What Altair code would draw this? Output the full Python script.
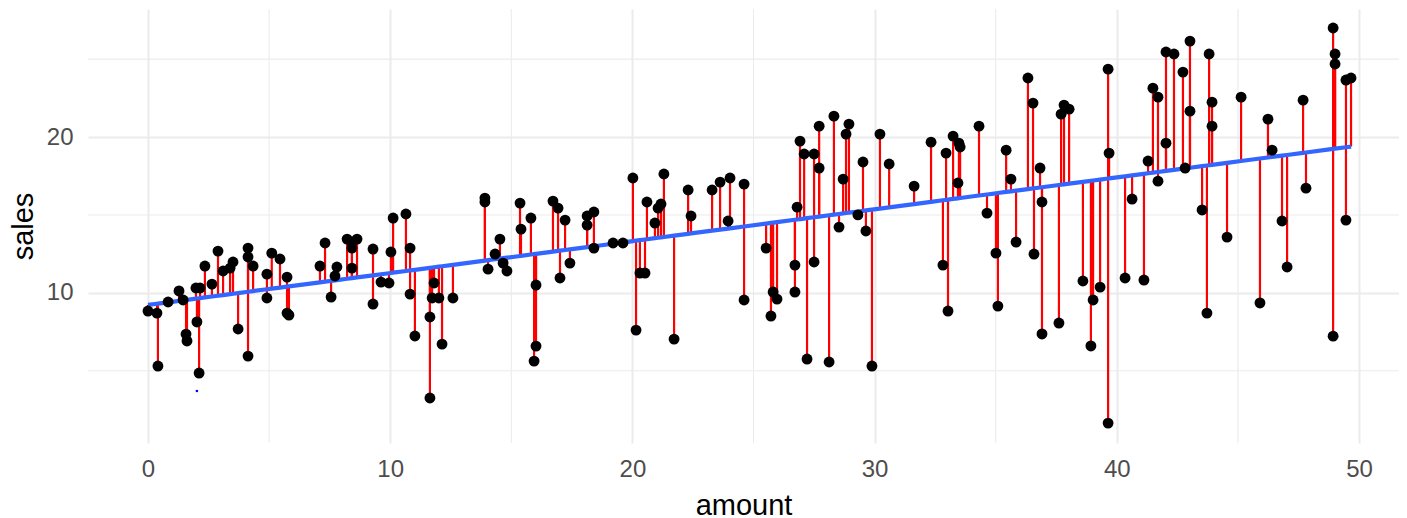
import altair as alt
import numpy as np
import pandas as pd

amount = [0.00, 0.37, 0.41, 0.83, 1.28, 1.45, 1.57, 1.61, 1.98, 2.15,
          2.02, 2.11, 2.35, 2.64, 2.89, 3.10, 3.39, 3.51, 3.72, 4.13,
          4.13, 4.34, 4.13, 4.91, 4.91, 5.11, 5.45, 5.74, 5.74, 5.82,
          7.10, 7.31, 7.56, 7.72, 7.80, 8.22, 8.42, 8.42, 8.63, 8.42,
          9.29, 9.29, 9.62, 9.95, 10.03, 10.12, 10.65, 10.82, 10.82, 11.02,
          11.64, 11.64, 11.73, 11.81, 12.01, 12.14, 12.59, 13.91, 13.91, 14.04,
          14.33, 14.53, 14.66, 14.82, 15.36, 15.40, 15.81, 16.02, 16.02, 15.94,
          16.72, 16.93, 17.01, 17.22, 17.42, 18.13, 18.13, 18.41, 18.41, 19.20,
          19.61, 20.02, 20.15, 20.31, 20.52, 20.60, 20.93, 21.06, 21.18, 21.30,
          21.72, 22.30, 22.42, 23.29, 23.62, 24.03, 23.95, 24.61, 24.61, 25.52,
          25.81, 25.97, 25.72, 26.71, 26.71, 26.80, 26.92, 27.09, 27.21, 27.50,
          27.50, 27.71, 27.71, 28.12, 28.32, 28.53, 28.70, 28.82, 28.94, 29.31,
          29.52, 29.64, 29.89, 30.22, 30.60, 31.63, 32.33, 32.82, 32.95, 33.03,
          33.24, 33.48, 33.53, 33.44, 34.31, 34.64, 35.01, 35.09, 35.43, 35.63,
          35.84, 36.33, 36.54, 36.58, 36.83, 36.91, 36.91, 37.61, 37.70, 37.82,
          38.03, 38.60, 39.02, 38.93, 39.31, 39.64, 39.68, 39.64, 40.34, 40.63,
          41.12, 41.29, 41.49, 41.70, 41.70, 42.03, 42.03, 42.36, 42.73, 42.82,
          43.02, 43.02, 43.52, 43.72, 43.81, 43.93, 43.93, 44.55, 45.13, 45.91,
          46.24, 46.41, 46.82, 47.03, 47.69, 47.81, 48.93, 49.01, 49.01, 48.93,
          49.46, 49.67, 49.46]

sales = [8.83, 8.70, 5.30, 9.41, 10.12, 9.54, 7.35, 6.91, 10.31, 10.31,
         8.13, 4.85, 11.72, 10.56, 12.68, 11.40, 11.59, 11.98, 7.68, 12.87,
         12.30, 11.72, 5.94, 11.20, 9.67, 12.55, 12.17, 11.01, 8.70, 8.57,
         11.72, 13.20, 9.73, 11.08, 11.66, 13.45, 13.26, 12.87, 13.45, 11.59,
         12.81, 9.28, 10.69, 10.63, 12.62, 14.80, 15.06, 12.87, 9.92, 7.23,
         3.25, 8.45, 9.67, 10.63, 9.67, 6.71, 9.67, 16.08, 15.83, 11.52,
         12.49, 13.45, 11.91, 11.40, 15.76, 14.09, 14.80, 10.50, 6.58, 5.62,
         15.89, 15.44, 10.95, 14.67, 11.91, 14.93, 14.35, 15.19, 12.87, 13.20,
         13.20, 17.37, 7.61, 11.27, 11.27, 15.83, 14.48, 15.44, 15.70, 17.63,
         7.03, 16.60, 14.93, 16.60, 17.11, 17.37, 14.61, 16.98, 9.54, 12.87,
         10.05, 9.60, 8.51, 11.78, 10.05, 15.50, 19.74, 18.91, 5.75, 18.91,
         11.98, 20.70, 18.01, 5.56, 21.34, 14.22, 17.30, 20.19, 20.83, 15.00,
         18.40, 13.97, 5.30, 20.19, 18.27, 16.85, 19.67, 11.78, 18.97, 8.83,
         20.06, 19.61, 19.36, 17.05, 20.70, 15.12, 12.55, 9.15, 19.16, 17.30,
         13.26, 23.79, 22.18, 12.49, 18.01, 15.83, 7.36, 8.06, 21.47, 22.05,
         21.79, 10.76, 9.54, 6.59, 10.37, 24.36, 18.97, 1.64, 10.95, 16.02,
         10.82, 18.46, 23.14, 22.56, 17.17, 19.61, 25.46, 25.33, 24.17, 18.01,
         26.16, 21.66, 15.32, 8.70, 25.33, 22.24, 20.70, 13.58, 22.56, 9.35,
         21.15, 19.16, 14.61, 11.66, 22.37, 16.72, 27.00, 25.33, 24.69, 7.22,
         23.66, 23.79, 14.67]

stray_amount = [2.02]
stray_sales = [3.70]

x_major = [0, 10, 20, 30, 40, 50]
x_minor = [5, 15, 25, 35, 45]
y_major = [10, 20]
y_minor = [5, 15, 25]

slope, intercept = np.polyfit(amount, sales, 1)
df = pd.DataFrame({"amount": amount, "sales": sales})
df["fitted"] = intercept + slope * df["amount"]

xdom = [-2.477, 51.65]
ydom = [0.36, 28.22]

GRID = "#EBEBEB"
FONT = "Liberation Sans"
PW, PH = 1311, 434

xs = alt.Scale(domain=xdom, nice=False, zero=False)
ys = alt.Scale(domain=ydom, nice=False, zero=False)

x_axis = alt.Axis(values=x_major, grid=True, gridColor=GRID, gridWidth=2,
                  ticks=False, tickSize=0, domain=False, labelFontSize=24,
                  labelColor="#4D4D4D", labelFont=FONT, labelPadding=14,
                  titleFontSize=29, titleFont=FONT, titleColor="#000000",
                  titleFontWeight="normal", titleBaseline="alphabetic",
                  titleY=71, format="d")
y_axis = alt.Axis(values=y_major, grid=True, gridColor=GRID, gridWidth=2,
                  ticks=False, tickSize=0, domain=False, labelFontSize=24,
                  labelColor="#4D4D4D", labelFont=FONT, labelPadding=15,
                  titleFontSize=29, titleFont=FONT, titleColor="#000000",
                  titleFontWeight="normal", titleBaseline="alphabetic",
                  titleX=-56, titleY=PH / 2, format="d")


def X(field):
    return alt.X(field, scale=xs, axis=x_axis, title="amount")


def Y(field):
    return alt.Y(field, scale=ys, axis=y_axis, title="sales")


vminor = alt.Chart(pd.DataFrame({"v": x_minor})).mark_rule(
    color=GRID, strokeWidth=1.1).encode(x=X("v:Q"))
hminor = alt.Chart(pd.DataFrame({"v": y_minor})).mark_rule(
    color=GRID, strokeWidth=1.1).encode(y=Y("v:Q"))

base = alt.Chart(df)
segs = base.mark_rule(color="#FF0000", strokeWidth=2.2).encode(
    x=X("amount:Q"), y=Y("sales:Q"), y2="fitted:Q",
)
line = base.mark_line(color="#3366FF", strokeWidth=4.2).encode(
    x=X("amount:Q"), y=Y("fitted:Q"),
)
pts = base.mark_circle(color="#000000", size=118, opacity=1).encode(
    x=X("amount:Q"), y=Y("sales:Q"),
)
stray = alt.Chart(pd.DataFrame({"amount": stray_amount, "sales": stray_sales})).mark_circle(
    color="#0000FF", size=7, opacity=1).encode(
    x=X("amount:Q"), y=Y("sales:Q"),
)

chart = alt.layer(vminor, hminor, segs, line, pts, stray).properties(
    width=PW, height=PH,
    autosize=alt.AutoSizeParams(type="none"),
    padding={"left": 80, "top": 1, "right": 0, "bottom": 80},
    background="white",
).configure_view(strokeWidth=0)

chart.save("out.html", embed_options={"renderer": "svg", "actions": False})
